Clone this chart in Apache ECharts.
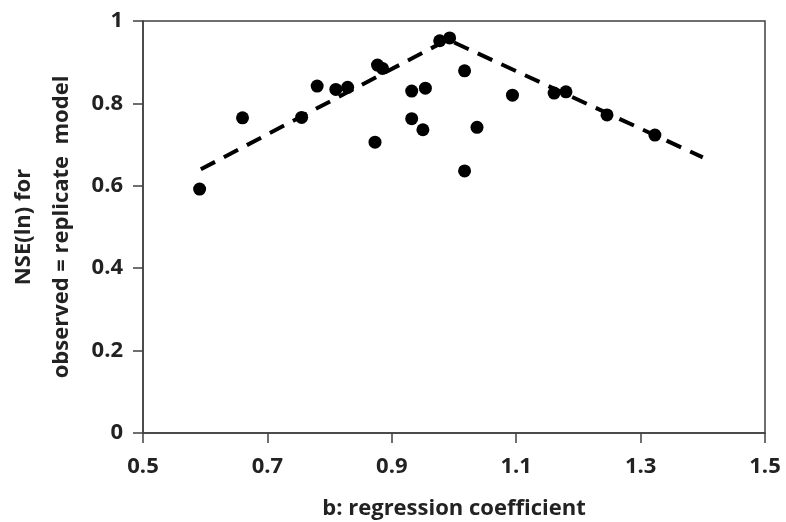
<!DOCTYPE html>
<html>
<head>
<meta charset="utf-8">
<script src="https://cdn.jsdelivr.net/npm/echarts@6/dist/echarts.min.js"></script>
<style>html,body{margin:0;padding:0;background:#fff}#c{width:786px;height:522px}</style>
</head>
<body>
<div id="c"></div>
<script>
// Scatter points: b (regression coefficient) and NSE(ln)
const bValues = [0.591, 0.660, 0.780, 0.755, 0.810, 0.829, 0.877, 0.885, 0.873, 0.932, 0.954, 0.932, 0.950, 0.977, 0.993, 1.017, 1.017, 1.037, 1.094, 1.161, 1.180, 1.246, 1.323];
const nseValues = [0.592, 0.765, 0.842, 0.766, 0.834, 0.839, 0.893, 0.885, 0.706, 0.830, 0.837, 0.763, 0.736, 0.952, 0.959, 0.879, 0.636, 0.742, 0.820, 0.825, 0.828, 0.772, 0.723];
// Dashed envelope line
const lineB = [0.593, 0.99, 1.40];
const lineNSE = [0.640, 0.955, 0.669];
// Axis ticks
const xTicks = [0.5, 0.7, 0.9, 1.1, 1.3, 1.5];
const yTicks = [0, 0.2, 0.4, 0.6, 0.8, 1];

const font = '"Open Sans", "Liberation Sans", sans-serif';
const axisCol = '#404040';
const txtCol = '#222';

const chart = echarts.init(document.getElementById('c'), null, {renderer: 'canvas'});
chart.setOption({
  animation: false,
  backgroundColor: '#fff',
  grid: {left: 143, right: 21, top: 21, bottom: 89, show: true, borderColor: axisCol, borderWidth: 1.5, containLabel: false, outerBoundsMode: 'none'},
  xAxis: {
    type: 'value', min: xTicks[0], max: xTicks[xTicks.length - 1], interval: 0.2,
    name: 'b: regression coefficient', nameLocation: 'middle', nameGap: 65,
    nameTextStyle: {fontFamily: font, fontWeight: 'bold', fontSize: 22, color: txtCol},
    axisLine: {show: true, onZero: false, lineStyle: {color: axisCol, width: 1.5}},
    axisTick: {show: true, inside: false, length: 10, lineStyle: {color: axisCol, width: 1.5}},
    axisLabel: {fontFamily: font, fontWeight: 'bold', fontSize: 22, color: txtCol, margin: 23,
      formatter: v => (Math.round(v * 10) / 10).toString()},
    splitLine: {show: false}
  },
  yAxis: {
    type: 'value', min: yTicks[0], max: yTicks[yTicks.length - 1], interval: 0.2,
    name: 'NSE(ln) for\nobserved = replicate  model', nameLocation: 'middle', nameGap: 61, nameRotate: 90,
    nameTextStyle: {fontFamily: font, fontWeight: 'bold', fontSize: 22, color: txtCol, lineHeight: 38},
    axisLine: {show: true, onZero: false, lineStyle: {color: axisCol, width: 1.5}},
    axisTick: {show: true, inside: false, length: 10, lineStyle: {color: axisCol, width: 1.5}},
    axisLabel: {fontFamily: font, fontWeight: 'bold', fontSize: 22, color: txtCol, margin: 20,
      formatter: v => (Math.round(v * 10) / 10).toString()},
    splitLine: {show: false}
  },
  series: [
    {
      type: 'line', data: lineB.map((b, i) => [b, lineNSE[i]]), symbol: 'none', z: 2,
      lineStyle: {color: '#000', width: 4, type: [16, 10]}
    },
    {
      type: 'scatter', data: bValues.map((b, i) => [b, nseValues[i]]), symbol: 'circle', symbolSize: 13, z: 3,
      itemStyle: {color: '#000', opacity: 1}
    }
  ]
});
</script>
</body>
</html>
